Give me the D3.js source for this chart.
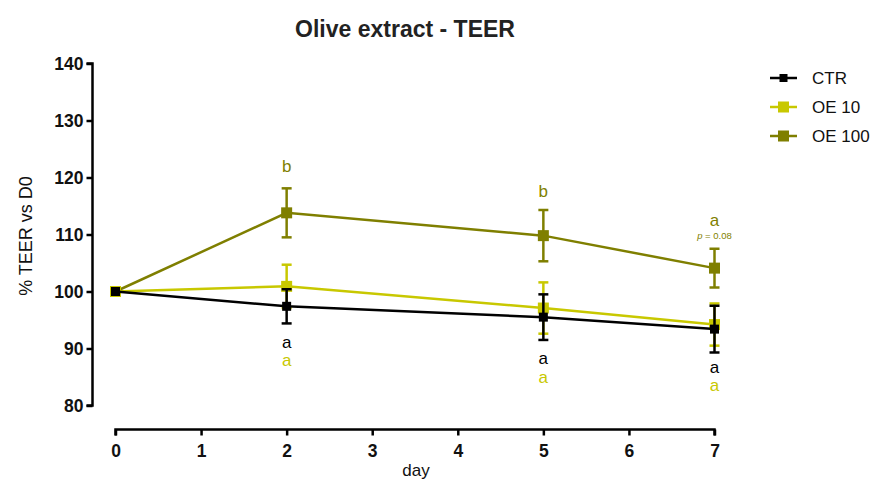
<!DOCTYPE html>
<html><head><meta charset="utf-8">
<script src="https://cdn.jsdelivr.net/npm/d3@7"></script>
<style>body{margin:0;background:#fff}svg{font-family:"Liberation Sans",Arial,sans-serif}</style>
</head><body><svg id="c" width="870" height="481"></svg>
<script>
const days = [0, 2, 5, 7];
const seriesNames = ["CTR", "OE 10", "OE 100"];
const ctrMean = [100, 97.4, 95.5, 93.4];
const ctrErr = [0, 3.0, 4.0, 4.1];
const oe10Mean = [100, 100.9, 97.1, 94.2];
const oe10Err = [0, 3.8, 4.5, 3.7];
const oe100Mean = [100, 113.8, 109.8, 104.1];
const oe100Err = [0, 4.3, 4.5, 3.4];
const xTicks = [0, 1, 2, 3, 4, 5, 6, 7];
const yTicks = [80, 90, 100, 110, 120, 130, 140];
const lettersOE100 = ["", "b", "b", "a"];
const lettersCTR = ["", "a", "a", "a"];
const lettersOE10 = ["", "a", "a", "a"];
const colors = ["#000000", "#c8c800", "#7f7f00"];

const svg = d3.select("#c");
const x = d3.scaleLinear().domain([0, 7]).range([115.5, 714.5]);
const y = d3.scaleLinear().domain([80, 140]).range([405.5, 63.5]);

svg.append("text").attr("x", 405).attr("y", 37).attr("text-anchor", "middle")
  .attr("font-size", 23).attr("font-weight", "bold").attr("fill", "#222").text("Olive extract - TEER");

const ya = svg.append("g").attr("transform", "translate(92.5,0)")
  .call(d3.axisLeft(y).tickValues(yTicks).tickSize(6).tickPadding(3).tickFormat(d3.format("d")));
const xa = svg.append("g").attr("transform", "translate(0,429.5)")
  .call(d3.axisBottom(x).tickValues(xTicks).tickSize(6).tickPadding(9).tickFormat(d3.format("d")));
[ya, xa].forEach(a => {
  a.select(".domain").attr("stroke", "#000").attr("stroke-width", 2.5);
  a.selectAll(".tick line").attr("stroke", "#000").attr("stroke-width", 2.5);
  a.selectAll(".tick text").attr("font-size", 17.5).attr("font-weight", "bold").attr("fill", "#111")
   .attr("font-family", "Liberation Sans, Arial, sans-serif");
});
ya.select(".domain").attr("d", `M-6,${y(140)}H0V${y(80)}H-6`);
xa.select(".domain").attr("d", `M${x(0)},6V0H${x(7)}V6`);

svg.append("text").attr("transform", `translate(32,236) rotate(-90)`).attr("text-anchor", "middle")
  .attr("font-size", 18).attr("fill", "#111").text("% TEER vs D0");
svg.append("text").attr("x", 416).attr("y", 476).attr("text-anchor", "middle")
  .attr("font-size", 17).attr("fill", "#111").text("day");

const data = [
  {m: ctrMean, e: ctrErr},
  {m: oe10Mean, e: oe10Err},
  {m: oe100Mean, e: oe100Err}
];
const order = [2, 1, 0];
const line = d3.line().x((d, i) => x(days[i])).y(d => y(d));
order.forEach(s => {
  const g = svg.append("g");
  const c = colors[s];
  g.append("path").attr("d", line(data[s].m)).attr("fill", "none").attr("stroke", c).attr("stroke-width", 2.5);
  days.forEach((d, i) => {
    const e = data[s].e[i];
    if (e > 0) {
      const xm = x(d), yt = y(data[s].m[i] + e), yb = y(data[s].m[i] - e);
      g.append("line").attr("x1", xm).attr("x2", xm).attr("y1", yt).attr("y2", yb).attr("stroke", c).attr("stroke-width", 2.5);
      [yt, yb].forEach(yy => g.append("line").attr("x1", xm - 5).attr("x2", xm + 5).attr("y1", yy).attr("y2", yy).attr("stroke", c).attr("stroke-width", 2.5));
    }
    const sz = s === 0 ? 9 : 11;
    g.append("rect").attr("x", x(d) - sz / 2).attr("y", y(data[s].m[i]) - sz / 2).attr("width", sz).attr("height", sz).attr("fill", c);
  });
});

const lab = (arr, c, ys) => days.forEach((d, i) => {
  if (!arr[i]) return;
  svg.append("text").attr("x", x(d)).attr("y", ys[i]).attr("text-anchor", "middle")
    .attr("font-size", 17).attr("fill", c).text(arr[i]);
});
const oe100LabY = [0, 172, 197, 226];
const ctrLabY = [0, 348, 364, 373];
const oe10LabY = [0, 366, 383, 391];
lab(lettersOE100, colors[2], oe100LabY);
lab(lettersCTR, colors[0], ctrLabY);
lab(lettersOE10, colors[1], oe10LabY);
svg.append("text").attr("x", x(7)).attr("y", 239).attr("text-anchor", "middle").attr("font-size", 9.5).attr("fill", colors[2])
  .html('<tspan font-style="italic">p</tspan> = 0.08');

const lg = svg.append("g");
seriesNames.forEach((n, i) => {
  const yy = 78 + i * 29;
  lg.append("line").attr("x1", 770).attr("x2", 797).attr("y1", yy).attr("y2", yy).attr("stroke", colors[i]).attr("stroke-width", 2.5);
  const sz = i === 0 ? 8 : 11;
  lg.append("rect").attr("x", 783.5 - sz / 2).attr("y", yy - sz / 2).attr("width", sz).attr("height", sz).attr("fill", colors[i]);
  lg.append("text").attr("x", 812).attr("y", yy + 6).attr("font-size", 17).attr("fill", "#111").text(n);
});
</script></body></html>
